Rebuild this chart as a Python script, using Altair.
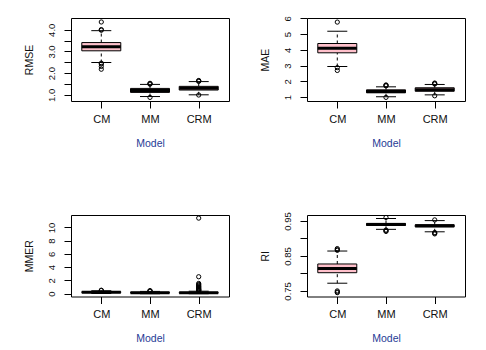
import altair as alt
import pandas as pd

models = ["CM", "MM", "CRM"]

# RMSE box statistics
rmse_q1 = [3.03, 1.11, 1.22]
rmse_med = [3.22, 1.20, 1.30]
rmse_q3 = [3.41, 1.295, 1.39]
rmse_lo = [2.49, 0.92, 1.00]
rmse_hi = [3.96, 1.48, 1.61]
rmse_out_model = ["CM", "CM", "CM", "CM", "CM", "CM", "CM", "MM", "MM", "MM", "MM", "CRM", "CRM", "CRM", "CRM"]
rmse_out_value = [4.36, 3.98, 4.01, 2.46, 2.42, 2.31, 2.18, 1.49, 1.51, 1.53, 0.88, 1.62, 1.64, 1.66, 0.99]
rmse_ticks = [1.0, 1.5, 2.0, 2.5, 3.0, 3.5, 4.0]

# MAE box statistics
mae_q1 = [3.82, 1.28, 1.38]
mae_med = [4.11, 1.36, 1.47]
mae_q3 = [4.41, 1.47, 1.60]
mae_lo = [2.95, 1.03, 1.15]
mae_hi = [5.19, 1.66, 1.81]
mae_out_model = ["CM", "CM", "CM", "MM", "MM", "MM", "MM", "CRM", "CRM", "CRM", "CRM"]
mae_out_value = [5.77, 2.88, 2.70, 1.72, 1.75, 1.78, 0.99, 1.84, 1.87, 1.90, 1.09]
mae_ticks = [1, 2, 3, 4, 5, 6]

# MMER box statistics
mmer_q1 = [0.17, 0.10, 0.08]
mmer_med = [0.23, 0.15, 0.13]
mmer_q3 = [0.30, 0.21, 0.20]
mmer_lo = [0.03, 0.00, 0.00]
mmer_hi = [0.45, 0.35, 0.38]
mmer_out_model = ["CM", "CM", "MM", "MM", "MM"] + ["CRM"] * 15
mmer_out_value = [0.48, 0.53, 0.38, 0.42, 0.46,
                  11.4, 2.56, 1.55, 1.40, 1.28, 1.15, 1.05, 0.95, 0.85, 0.75, 0.68, 0.62, 0.55, 0.50, 0.45]
mmer_ticks = [0, 2, 4, 6, 8, 10]

# RI box statistics
ri_q1 = [0.802, 0.937, 0.933]
ri_med = [0.814, 0.940, 0.936]
ri_q3 = [0.827, 0.943, 0.939]
ri_lo = [0.772, 0.926, 0.919]
ri_hi = [0.864, 0.957, 0.951]
ri_out_model = ["CM", "CM", "CM", "CM", "CM", "CM", "MM", "MM", "MM", "MM", "CRM", "CRM", "CRM", "CRM"]
ri_out_value = [0.866, 0.868, 0.871, 0.750, 0.747, 0.745, 0.960, 0.924, 0.922, 0.920, 0.953, 0.917, 0.915, 0.913]
ri_ticks = [0.75, 0.80, 0.85, 0.90, 0.95]

FONT = "Liberation Sans"


def panel(name, q1, med, q3, lo, hi, out_m, out_v, domain, ticks, label_expr, h):
    box = pd.DataFrame({"model": models, "q1": q1, "med": med, "q3": q3, "lo": lo, "hi": hi})
    out = pd.DataFrame({"model": out_m, "value": out_v})
    xs = alt.Scale(type="point", padding=0.622)
    xaxis = alt.Axis(title="Model", labelAngle=0, domain=False, grid=False,
                     tickSize=7, tickColor="black", labelPadding=5,
                     labelFontSize=11, labelColor="#111111", labelFont=FONT,
                     titleFontSize=10.5, titleFontWeight="normal", titleColor="#1F3C96",
                     titleFont=FONT, titlePadding=14)
    x = alt.X("model:N", sort=models, scale=xs, axis=xaxis)
    ys = alt.Scale(domain=domain, nice=False, zero=False)
    yaxis = alt.Axis(title=name, values=ticks, labelExpr=label_expr, labelAngle=270,
                     labelOverlap=False, labelFlush=False, domain=False, grid=False,
                     tickSize=7, tickColor="black", labelPadding=8, labelFontSize=9.5,
                     labelColor="#111111", labelFont=FONT, titleFontSize=10.5,
                     titleFontWeight="normal", titleColor="#111111", titleFont=FONT,
                     titlePadding=12)

    def Y(f):
        return alt.Y(f, scale=ys, axis=yaxis)

    base = alt.Chart(box)
    wl = base.mark_rule(color="black", strokeWidth=1, strokeDash=[3, 3], opacity=1).encode(
        x=x, y=Y("lo:Q"), y2="q1:Q")
    wh = base.mark_rule(color="black", strokeWidth=1, strokeDash=[3, 3], opacity=1).encode(
        x=x, y=Y("q3:Q"), y2="hi:Q")
    cl = base.mark_tick(color="black", size=20, thickness=1, opacity=1).encode(x=x, y=Y("lo:Q"))
    ch = base.mark_tick(color="black", size=20, thickness=1, opacity=1).encode(x=x, y=Y("hi:Q"))
    bx = base.mark_bar(size=39, fill="#FFC0CB", stroke="black", strokeWidth=1, opacity=1).encode(
        x=x, y=Y("q1:Q"), y2="q3:Q")
    md = base.mark_tick(color="black", size=39, thickness=3, opacity=1).encode(x=x, y=Y("med:Q"))
    pts = alt.Chart(out).mark_point(shape="circle", filled=False, color="black",
                                    strokeWidth=1, size=18, opacity=1).encode(
        x=x, y=Y("value:Q"))
    return alt.layer(wl, wh, cl, ch, bx, md, pts).properties(width=158, height=h)


p1 = panel("RMSE", rmse_q1, rmse_med, rmse_q3, rmse_lo, rmse_hi, rmse_out_model, rmse_out_value,
           [0.714, 4.544], rmse_ticks,
           "abs(datum.value - round(datum.value)) < 0.01 ? format(datum.value, '.1f') : ''", 83)
p2 = panel("MAE", mae_q1, mae_med, mae_q3, mae_lo, mae_hi, mae_out_model, mae_out_value,
           [0.76, 6.03], mae_ticks, "format(datum.value, 'd')", 83)
p3 = panel("MMER", mmer_q1, mmer_med, mmer_q3, mmer_lo, mmer_hi, mmer_out_model, mmer_out_value,
           [-0.42, 11.87], mmer_ticks, "format(datum.value, 'd')", 81.5)
p4 = panel("RI", ri_q1, ri_med, ri_q3, ri_lo, ri_hi, ri_out_model, ri_out_value,
           [0.734, 0.967], ri_ticks,
           "round(datum.value * 100) % 10 == 5 ? format(datum.value, '.2f') : ''", 81.5)

top = alt.hconcat(p1, p2, spacing=29)
bot = alt.hconcat(p3, p4, spacing=29)
chart = alt.vconcat(top, bot, spacing=62).properties(
    padding={"left": 15, "top": 7, "right": 0, "bottom": 0},
    background="white",
).configure(font=FONT).configure_view(stroke="black", strokeWidth=1)

chart.save("out.html", embed_options={"renderer": "svg", "actions": False})
